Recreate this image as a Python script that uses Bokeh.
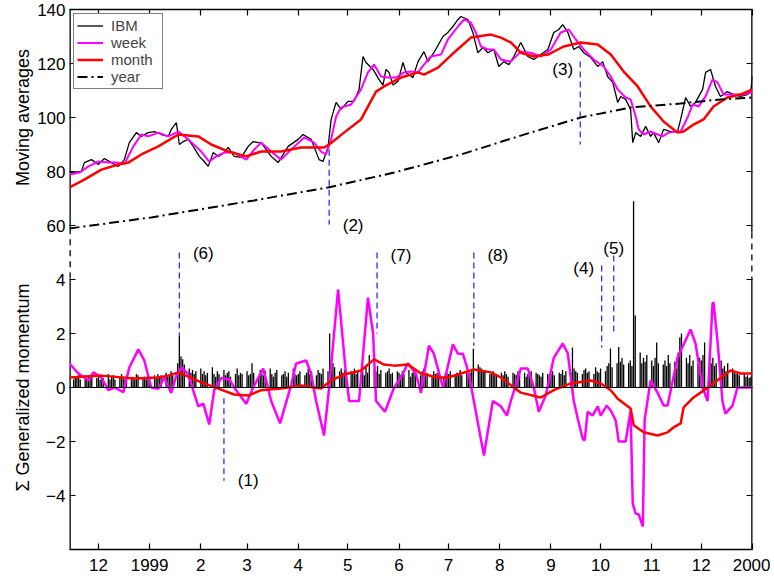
import math
import pandas as pd
from bokeh.plotting import figure
from bokeh.layouts import row
from bokeh.models import (Range1d, LinearAxis, FixedTicker, Span, Label,
                          Legend, LegendItem)
from bokeh.core.properties import value
from bokeh.embed import file_html
from bokeh.resources import INLINE

FONT = "Liberation Sans"
ORIGIN = pd.Timestamp("1998-12-01")   # x = days since 1 Dec 1998

# ---------------- top panel: prices and moving averages ----------------
ibm_day = [-17.5, -10.3, -8.5, -4.2, 0, 3.6, 7.9, 12.1, 15.7, 18.7, 23.0, 26.0, 30.2, 33.9,
           38.1, 42.3, 44.1, 47.2, 49.0, 51.4, 54.4, 57.4, 61.1, 64.1, 66.5, 69.5, 72.6, 76.2,
           78.6, 82.2, 86.5, 90.7, 93.7, 96.7, 98.5, 104.6, 108.8, 114.9, 120.9, 123.9, 128.8,
           133.6, 136.0, 139.1, 140.9, 143.9, 146.9, 151.1, 154.8, 157.8, 160.2, 162.0, 166.3,
           169.9, 172.3, 174.1, 175.9, 178.4, 181.4, 184.4, 186.2, 190.4, 193.5, 197.1, 199.5,
           203.1, 208.6, 211.6, 214.6, 217.7, 219.5, 223.7, 226.7, 229.7, 232.8, 235.8, 239.4,
           242.4, 245.5, 248.5, 251.5, 255.7, 260.0, 263.6, 267.8, 272.1, 275.7, 278.7, 281.1,
           284.2, 287.8, 290.8, 293.8, 298.1, 302.3, 305.3, 308.3, 311.4, 314.4, 316.2, 319.2,
           322.2, 323.5, 325.3, 328.3, 331.3, 334.3, 336.1, 339.2, 342.2, 346.4, 350.6, 352.5,
           355.5, 358.5, 361.5, 365.8, 367.6, 370.6, 373.6, 376.6, 380.8, 384.5, 388.7, 392.9,
           394.8, 396.0]
ibm_price = [79.6, 80.0, 83.3, 84.4, 82.6, 84.8, 83.3, 81.9, 84.4, 90.7, 94.4, 93.0, 94.4, 94.8,
             93.7, 93.0, 95.6, 98.1, 90.0, 91.1, 91.9, 89.3, 85.6, 83.7, 81.9, 87.0, 85.6, 87.0,
             88.9, 85.6, 85.2, 89.3, 91.1, 90.7, 90.7, 85.6, 83.3, 89.3, 91.9, 93.7, 91.9,
             84.4, 83.7, 89.3, 99.3, 105.6, 103.0, 106.0, 106.0, 110.4, 122.6, 120.4, 117.8,
             114.0, 112.0, 117.8, 116.7, 112.0, 113.4, 120.4, 116.7, 114.8, 120.7, 124.4, 120.7,
             124.0, 130.0, 131.5, 133.7, 136.3, 137.4, 136.3, 131.5, 124.0, 125.9, 124.0, 125.2,
             118.9, 120.7, 119.6, 122.6, 127.8, 122.6, 121.5, 123.3, 125.2, 131.5, 132.6, 134.4,
             131.5, 125.2, 126.3, 124.0, 122.2, 118.9, 120.7, 115.2, 113.0, 105.6, 107.8, 106.7,
             103.0, 90.7, 94.4, 93.0, 96.7, 93.0, 94.4, 90.7, 95.6, 94.8, 94.8, 99.3,
             107.4, 104.1, 105.6, 110.4, 116.7, 117.8, 111.5, 107.8, 109.6, 108.5, 107.8, 108.5,
             109.2, 115.2]

week_day = [-17.5, -11.5, -6.0, 0, 6.0, 10.9, 15.7, 21.2, 26.0, 30.2, 36.3, 42.3, 48.4, 54.4,
            62.3, 67.1, 71.3, 76.2, 82.2, 89.5, 94.3, 98.5, 104.6, 110.6, 116.7, 124.5, 130.6,
            134.8, 137.8, 140.9, 143.9, 146.9, 153.0, 159.0, 163.2, 166.9, 171.1, 175.3, 180.2,
            185.0, 189.2, 193.5, 197.1, 201.3, 207.4, 211.6, 217.7, 221.3, 225.5, 228.5, 231.6,
            235.8, 239.4, 243.7, 249.7, 255.7, 261.8, 267.8, 273.9, 279.9, 284.8, 289.0, 293.8,
            299.9, 305.9, 310.2, 314.4, 319.2, 322.2, 325.3, 327.1, 330.1, 334.3, 338.6, 341.6,
            345.2, 349.4, 352.5, 356.7, 359.7, 363.4, 367.6, 371.8, 374.8, 378.5, 384.5, 390.6,
            394.8, 396.0]
week_price = [78.9, 79.6, 81.9, 83.7, 83.3, 83.3, 82.9, 89.3, 93.7, 93.0, 94.4, 93.0, 94.8, 91.9,
              87.4, 83.7, 85.6, 87.0, 87.0, 84.4, 88.1, 90.7, 87.4, 84.4, 88.1, 92.6, 90.7,
              87.4, 86.3, 91.9, 100.4, 103.7, 104.8, 110.4, 116.7, 119.6, 115.2, 114.8, 114.8,
              116.7, 117.0, 116.7, 119.6, 122.6, 123.3, 128.9, 133.7, 136.3, 135.2, 131.5, 126.3,
              125.2, 125.2, 121.5, 120.7, 124.4, 124.0, 122.6, 125.2, 131.5, 132.6, 128.9, 125.2,
              121.5, 118.9, 115.2, 110.4, 107.4, 106.7, 100.4, 95.6, 93.7, 94.8, 93.7, 93.0,
              94.4, 94.8, 94.8, 100.0, 104.8, 104.1, 107.8, 114.0, 113.0, 108.5, 108.5, 108.5,
              109.2, 110.0]

month_day = [-17.5, -8.5, 1.8, 12.1, 18.1, 26.0, 36.3, 48.4, 60.5, 68.3, 78.6, 89.5, 98.5,
             110.6, 122.7, 136.6, 139.7, 148.7, 159.0, 168.1, 172.9, 183.2, 193.5, 197.1, 205.6,
             215.2, 225.5, 237.6, 243.7, 249.7, 255.7, 263.6, 272.1, 281.7, 292.0, 302.3, 310.2,
             318.0, 326.5, 334.3, 342.2, 350.6, 354.3, 360.3, 366.4, 372.4, 380.8, 388.7, 396.0]
month_price = [74.1, 77.0, 80.7, 82.6, 83.3, 86.3, 89.3, 93.7, 93.0, 90.0, 87.4, 85.6, 87.4,
               87.4, 88.9, 88.9, 90.0, 94.4, 99.3, 109.6, 111.5, 114.8, 116.7, 115.9, 118.5,
               124.0, 129.6, 130.7, 129.6, 127.8, 124.0, 122.6, 123.3, 126.3, 127.8, 127.0, 123.3,
               117.0, 111.5, 104.1, 98.5, 94.4, 94.8, 97.4, 99.3, 104.1, 107.4, 108.5, 110.4]

year_day = [-17.5, 32.0, 94.3, 139.1, 179.0, 219.5, 255.7, 292.0, 322.2, 352.5, 376.6, 396.0]
year_price = [58.9, 63.0, 69.3, 74.1, 79.6, 86.3, 93.3, 100.0, 103.7, 105.2, 106.7, 107.4]

# ---------------- bottom panel: generalized momentum ----------------
mweek_day = [-17.5, -12.1, -6.0, -3.0, 1.8, 6.0, 9.7, 15.1, 18.7, 24.2, 27.8, 32.0, 36.3, 39.9,
             44.1, 47.2, 50.2, 54.4, 58.0, 60.5, 63.5, 67.1, 70.1, 74.4, 79.2, 83.4, 89.5, 93.7,
             99.8, 104.6, 110.0, 116.7, 119.7, 125.8, 128.8, 131.8, 136.6, 139.7, 145.1, 149.9,
             151.8, 157.8, 163.2, 166.3, 168.1, 173.5, 179.0, 183.2, 187.4, 192.3, 195.3, 200.1,
             203.1, 208.6, 214.6, 217.7, 220.7, 224.3, 227.3, 233.4, 238.8, 243.7, 247.3, 249.7,
             255.7, 260.0, 263.6, 266.6, 270.8, 275.7, 281.1, 284.2, 286.0, 287.8, 290.2, 293.2,
             294.4, 296.2, 299.2, 302.3, 304.1, 307.7, 310.2, 313.2, 315.0, 319.2, 322.2, 323.5,
             325.3, 327.1, 329.6, 330.7, 334.3, 338.6, 342.2, 344.6, 350.6, 358.5, 361.5, 365.8,
             368.8, 371.8, 372.4, 374.8, 377.8, 379.6, 383.9, 386.9, 396.0]
mweek_val = [0.89, 0.52, 0.26, 0.56, 0.37, -0.10, 0.0, -0.17, 0.74, 1.41, 1.0, 0.0, -0.05, 0.37,
             -0.20, 0.44, 0.74, 0.50, -0.23, -0.70, -0.60, -1.37, -0.10, 0.35, 0.30, -0.10, -0.60,
             0.0, 0.70, -0.50, -1.33, 0.10, 0.89, 1.0, 0.50, -0.50, -1.78, 0.0, 3.63, 0.50,
             -0.50, -0.50, 3.33, 2.0, -0.50, -0.90, 0.0, 0.37, 0.90, 0.50, -0.20, 1.55,
             1.25, 0.0, 1.60, 1.25, 1.25, 0.50, -0.50, -2.52, -0.50, -0.70, -1.04, -0.50,
             0.70, 0.70, 0.0, -0.90, -0.30, 1.10, 1.63, 1.26, 0.37, -0.50, -1.15, -1.90,
             -1.96, -0.90, -1.04, -0.70, -1.04, -0.67, -0.85, -1.22, -2.0, -2.0, -0.85, -4.30,
             -4.67, -4.70, -5.15, -1.20, 0.26, -0.20, -0.67, -0.67, 1.10, 2.15, 1.63, 0.0,
             -0.50, 3.10, 3.15, 1.74, -0.50, -0.97, -0.67, 0.0, 0.0]

mmonth_day = [-17.5, 1.8, 21.8, 36.3, 42.3, 48.4, 54.4, 62.3, 72.6, 82.2, 90.7, 98.5, 110.6,
              122.7, 134.8, 140.9, 148.7, 159.0, 166.9, 172.9, 179.0, 187.4, 191.0, 195.3,
              205.6, 211.6, 219.5, 227.3, 237.6, 243.7, 251.5, 255.7, 267.8, 275.7, 286.0,
              298.1, 304.1, 310.2, 314.4, 322.2, 324.1, 330.1, 338.6, 344.6, 348.2, 352.5,
              354.3, 360.3, 370.6, 382.7, 388.7, 396.0]
mmonth_val = [0.37, 0.44, 0.33, 0.37, 0.44, 0.56, 0.40, 0.19, -0.04, -0.26, -0.30, -0.10, -0.04,
              0.07, -0.04, 0.26, 0.48, 0.63, 1.04, 0.85, 0.81, 0.85, 0.70, 0.52,
              0.37, 0.37, 0.52, 0.67, 0.56, 0.37, 0.0, -0.19, -0.37, -0.10, 0.15,
              0.26, 0.15, -0.10, -0.42, -0.78, -1.40, -1.66, -1.78, -1.66, -1.48, -1.33,
              -0.74, -0.37, 0.07, 0.63, 0.52, 0.52]

# daily momentum bars, one list per month (trading days)
bars_1998_11 = [0.45, 0.30, 0.40, 0.35, 0.50, 0.30, 0.45, 0.35, 0.40, 0.30, 0.50, 0.35]
bars_1998_12 = [0.40, 0.30, 0.45, 0.35, 0.50, 0.30, 0.40, 0.45, 0.30, 0.35, 0.50, 0.40, 0.30,
                0.45, 0.35, 0.40, 0.30, 0.50, 0.45, 0.35, 0.40, 0.30, 0.50]
bars_1999_01 = [0.30, 0.45, 0.40, 0.50, 0.35, 0.45, 0.55, 0.40, 0.50, 0.60, 0.45, 0.90, 1.93,
                1.15, 1.05, 0.85, 0.70, 0.55, 0.65, 0.50, 0.60]
bars_1999_02 = [0.70, 0.50, 0.60, 0.45, 0.55, 0.75, 0.50, 0.40, 0.60, 0.50, 0.65, 0.45, 0.55,
                0.60, 0.40, 0.50, 0.70, 0.45, 0.55, 0.50]
bars_1999_03 = [0.60, 0.45, 0.50, 0.90, 0.55, 0.40, 0.65, 0.50, 0.45, 0.60, 0.70, 0.50, 0.40,
                0.55, 0.65, 0.45, 0.50, 0.60, 0.40, 0.55, 0.70, 0.50, 0.45]
bars_1999_04 = [0.50, 0.60, 0.45, 0.55, 0.70, 0.50, 0.60, 0.45, 0.65, 0.55, 0.50, 0.70, 0.60,
                2.00, 1.05, 0.90, 0.75, 0.60, 0.70, 0.55, 0.65, 0.50]
bars_1999_05 = [0.60, 0.55, 0.70, 0.50, 0.65, 0.60, 0.45, 0.75, 0.55, 1.20, 0.70, 0.60, 0.80,
                0.50, 0.65, 0.55, 0.60, 0.70, 0.50, 0.55, 0.60]
bars_1999_06 = [0.55, 0.45, 0.60, 0.50, 0.65, 0.40, 0.55, 0.60, 0.50, 0.45, 0.60, 0.70, 0.50,
                0.55, 0.45, 0.60, 0.50, 0.55, 0.65, 0.40, 0.50, 0.55]
bars_1999_07 = [0.50, 0.60, 0.45, 0.55, 0.50, 0.65, 0.45, 0.60, 0.50, 0.55, 0.60, 1.44, 0.85,
                0.75, 0.70, 0.60, 0.65, 0.50, 0.55, 0.60, 0.45, 0.50]
bars_1999_08 = [0.55, 0.45, 0.60, 0.50, 0.40, 0.55, 0.50, 0.45, 0.60, 0.50, 0.55, 0.40, 0.50,
                0.45, 0.60, 0.55, 0.50, 0.45, 0.40, 0.55, 0.50, 0.45]
bars_1999_09 = [0.50, 0.60, 0.45, 0.55, 0.50, 0.65, 0.45, 0.60, 0.55, 1.48, 0.70, 0.60, 0.55,
                0.50, 0.65, 0.70, 0.55, 0.60, 0.50, 0.75, 0.60, 0.55]
bars_1999_10 = [0.70, 0.60, 0.80, 0.90, 1.44, 0.75, 0.90, 1.50, 0.95, 1.10, 0.85, 0.90, 1.00,
                0.80, 6.90, 2.67, 1.30, 0.90, 1.10, 0.95, 1.20]
bars_1999_11 = [1.00, 0.80, 1.10, 1.67, 0.90, 0.85, 1.00, 0.80, 1.20, 0.90, 0.95, 0.70, 1.30,
                1.86, 2.00, 1.10, 0.90, 1.20, 0.80, 1.00, 0.90, 1.10]
bars_1999_12 = [1.00, 1.20, 1.67, 1.26, 0.90, 1.10, 0.80, 0.90, 1.00, 0.70, 0.80, 0.60, 0.90,
                0.70, 0.60, 0.50, 0.55, 0.45, 0.50, 0.40, 0.45, 0.35, 0.40]

# ---------------- event markers ----------------
ev_label = ["(1)", "(2)", "(3)", "(4)", "(5)", "(6)", "(7)", "(8)"]
ev_panel = ["mom", "price", "price", "mom", "mom", "mom", "mom", "mom"]
ev_day = [76.0, 139.7, 291.7, 304.7, 312.0, 49.0, 168.7, 227.3]
ev_top = [-0.4, 88.1, 120.7, 4.52, 4.89, 5.0, 5.0, 5.0]
ev_bottom = [-3.45, 60.4, 90.0, 1.48, 2.0, 1.93, 2.0, 1.55]
ev_text_day = [90.7, 154.2, 281.1, 293.8, 312.0, 63.5, 183.2, 241.8]
ev_text_y = [-3.44, 60.0, 117.8, 4.4, 5.15, 4.96, 4.89, 4.89]

# ---------------- axes ----------------
month_labels = ["12", "1999", "2", "3", "4", "5", "6", "7", "8", "9", "10", "11", "12", "2000"]
month_starts = pd.date_range("1998-12-01", "2000-01-01", freq="MS")
left_ticks = [-4, -2, 0, 2, 4, 6, 8, 10, 12, 14]
left_labels = ["\u22124", "\u22122", "0", "2", "4", "60", "80", "100", "120", "140"]
y_titles = ["Moving averages", "\u03a3 Generalized momentum"]
y_title_pos = [10, 0]
X_START, X_END = -17.5, 396.0
Y_MIN, Y_MAX = -6, 14
BREAK_LEFT = (5.9, 4.04)
BREAK_RIGHT = (5.74, 4.04)

month_ticks = [(d - ORIGIN).days for d in month_starts]

H = 578
TITLE_W = 34
y_range = Range1d(Y_MIN, Y_MAX)

p = figure(width=770 - TITLE_W, height=H, output_backend="svg", toolbar_location=None,
           x_range=Range1d(X_START, X_END), y_range=y_range,
           x_axis_type=None, y_axis_type=None,
           min_border_left=68 - TITLE_W, min_border_right=18, min_border_top=9,
           min_border_bottom=29)
p.extra_y_ranges = {"price": Range1d(-60, 140)}
p.outline_line_color = None
p.background_fill_color = "white"
p.border_fill_color = "white"


def style_axis(ax, show_labels, line=True):
    ax.axis_line_color = "black" if line else None
    ax.axis_line_width = 1.3
    ax.major_tick_line_color = "black"
    ax.major_tick_line_width = 1.2
    ax.major_tick_in = 6
    ax.major_tick_out = 0
    ax.minor_tick_line_color = None
    ax.major_label_text_font = FONT
    ax.major_label_text_font_size = "17px"
    ax.major_label_text_color = "black"
    if not show_labels:
        ax.major_label_text_font_size = "1px"
        ax.major_label_standoff = 0


bottom = LinearAxis(ticker=FixedTicker(ticks=month_ticks),
                    major_label_overrides={t: l for t, l in zip(month_ticks, month_labels)})
style_axis(bottom, True)
bottom.major_label_standoff = 9
p.add_layout(bottom, "below")

top = LinearAxis(ticker=FixedTicker(ticks=month_ticks),
                 major_label_overrides={t: "" for t in month_ticks})
style_axis(top, False)
p.add_layout(top, "above")

left = LinearAxis(ticker=FixedTicker(ticks=left_ticks),
                  major_label_overrides={t: l for t, l in zip(left_ticks, left_labels)})
style_axis(left, True, line=False)
left.major_label_standoff = 4
p.add_layout(left, "left")

right = LinearAxis(ticker=FixedTicker(ticks=left_ticks),
                   major_label_overrides={t: "" for t in left_ticks})
style_axis(right, False, line=False)
p.add_layout(right, "right")

# broken left / right frame lines (drawn twice as wide: half is clipped by the frame)
for xe, (ya, yb) in [(X_START, BREAK_LEFT), (X_END, BREAK_RIGHT)]:
    p.segment(x0=[xe, xe], y0=[Y_MIN, ya], x1=[xe, xe], y1=[yb, Y_MAX],
              line_color="black", line_width=2.6)
    p.segment(x0=[xe], y0=[ya], x1=[xe], y1=[yb], line_color="black", line_width=2.6,
              line_dash="6 5")

# ---------------- bottom panel glyphs ----------------
bdays = pd.bdate_range("1998-11-13", "1999-12-31")
bar_groups = [("1998-11", bars_1998_11), ("1998-12", bars_1998_12), ("1999-01", bars_1999_01),
              ("1999-02", bars_1999_02), ("1999-03", bars_1999_03), ("1999-04", bars_1999_04),
              ("1999-05", bars_1999_05), ("1999-06", bars_1999_06), ("1999-07", bars_1999_07),
              ("1999-08", bars_1999_08), ("1999-09", bars_1999_09), ("1999-10", bars_1999_10),
              ("1999-11", bars_1999_11), ("1999-12", bars_1999_12)]
bar_x, bar_h = [], []
for key, hs in bar_groups:
    days = bdays[bdays.strftime("%Y-%m") == key]
    n = min(len(days), len(hs))
    bar_x += [(d - ORIGIN).days for d in days[:n]]
    bar_h += list(hs[:n])

p.add_layout(Span(location=0, dimension="width", line_color="black", line_width=1.2))
p.segment(x0=bar_x, y0=[0] * len(bar_x), x1=bar_x, y1=bar_h, line_color="black",
          line_width=1.3)
p.line(mweek_day, mweek_val, line_color="#ff00ff", line_width=2.5)
p.line(mmonth_day, mmonth_val, line_color="#ff0000", line_width=2.5)

# ---------------- top panel glyphs ----------------
r_ibm = p.line(ibm_day, ibm_price, y_range_name="price", line_color="black", line_width=1.3)
r_week = p.line(week_day, week_price, y_range_name="price", line_color="#ff00ff", line_width=2)
r_month = p.line(month_day, month_price, y_range_name="price", line_color="#ff0000",
                 line_width=2.5)
r_year = p.line(year_day, year_price, y_range_name="price", line_color="black", line_width=2,
                line_dash="10 4 2 4")

# ---------------- event markers ----------------
for lab, pan, d, y0, y1, td, ty in zip(ev_label, ev_panel, ev_day, ev_top, ev_bottom,
                                       ev_text_day, ev_text_y):
    rng = "price" if pan == "price" else "default"
    p.segment(x0=[d], y0=[y0], x1=[d], y1=[y1], y_range_name=rng,
              line_color="#1a1aff", line_width=1.2, line_dash="6 4")
    p.add_layout(Label(x=td, y=ty, y_range_name=rng, text=lab, text_font=FONT,
                       text_font_size="17px", text_align="center", text_baseline="middle",
                       text_color="black"))

# ---------------- legend ----------------
legend = Legend(items=[LegendItem(label="IBM", renderers=[r_ibm]),
                       LegendItem(label="week", renderers=[r_week]),
                       LegendItem(label="month", renderers=[r_month]),
                       LegendItem(label="year", renderers=[r_year])],
                location="top_left", margin=4, padding=3, spacing=0,
                glyph_width=26, glyph_height=17, label_height=17, label_width=48,
                label_standoff=8, label_text_font=FONT, label_text_font_size="15px",
                border_line_color="black", border_line_width=1.2,
                background_fill_color="white", background_fill_alpha=1)
p.add_layout(legend)

# ---------------- y axis titles (narrow figure on the left) ----------------
tfig = figure(width=TITLE_W, height=H, output_backend="svg", toolbar_location=None,
              x_range=Range1d(0, TITLE_W), y_range=y_range,
              x_axis_type=None, y_axis_type=None,
              min_border_left=0, min_border_right=0, min_border_top=9, min_border_bottom=29)
tfig.outline_line_color = None
tfig.background_fill_color = "white"
tfig.border_fill_color = "white"
tfig.text(x=[22, 22], y=y_title_pos, text=y_titles, angle=math.pi / 2,
          text_align="center", text_baseline="middle", text_font=value(FONT),
          text_font_size="18px", text_color="black")

layout = row(tfig, p, spacing=0)
open("out.html", "w").write(file_html(layout, INLINE))
